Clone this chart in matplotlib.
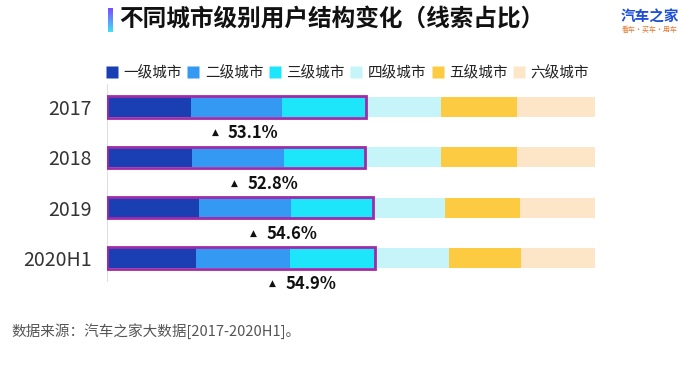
import numpy as np
import matplotlib
matplotlib.use("Agg")
import matplotlib.pyplot as plt
from matplotlib.patches import Rectangle
from matplotlib.lines import Line2D
from matplotlib.colors import LinearSegmentedColormap

plt.rcParams['font.family'] = ['Noto Sans CJK SC', 'DejaVu Sans']

# data (share of leads, %)
years = ['2017', '2018', '2019', '2020H1']
tiers = ['一级城市', '二级城市', '三级城市', '四级城市', '五级城市', '六级城市']
tier1 = [17.2, 17.5, 18.8, 18.2]
tier2 = [18.7, 18.7, 19.0, 19.4]
tier3 = [17.2, 16.6, 16.8, 17.3]
tier4 = [15.4, 15.6, 14.7, 15.2]
tier5 = [15.5, 15.7, 15.3, 14.8]
tier6 = [16.0, 15.9, 15.4, 15.1]
top3_share = ['53.1%', '52.8%', '54.6%', '54.9%']

colors = ['#1a3fb2', '#3399f2', '#1ee6fa', '#c6f5f9', '#fccb42', '#fde6c8']
label_x = [24.8, 28.7, 32.6, 36.5]  # left edge of the share labels

fig = plt.figure(figsize=(7, 3.65), dpi=100)
ax = fig.add_axes([107 / 700, 1 - 280.6 / 365, 488 / 700, 196.2 / 365])

y = np.arange(len(years))
series = [tier1, tier2, tier3, tier4, tier5, tier6]
left = np.zeros(len(years))
for vals, c in zip(series, colors):
    ax.barh(y, vals, left=left, height=0.4, color=c, edgecolor='none')
    left += np.array(vals)

# purple frame around first three tiers
first3 = np.array(tier1) + np.array(tier2) + np.array(tier3)
for yi, w in zip(y, first3):
    ax.add_patch(Rectangle((0, yi - 0.21), w, 0.42, fill=False,
                           edgecolor='#a02aa8', linewidth=2.0, zorder=5))

for yi, lx, s in zip(y, label_x, top3_share):
    ax.text(lx - 2.6, yi + 0.51, '▲', fontsize=6.5, ha='center', va='center',
            color='#111111', family=['DejaVu Sans'])
    ax.text(lx, yi + 0.52, s, fontsize=12, fontweight='bold',
            ha='left', va='center', color='#111111')

ax.set_xlim(0, 100)
ax.set_ylim(3.45, -0.45)
ax.set_yticks(y)
ax.set_yticklabels(years, fontsize=14, color='#333333')
ax.tick_params(axis='y', length=0, pad=11)
ax.set_xticks([])
for sp in ['top', 'right', 'bottom']:
    ax.spines[sp].set_visible(False)
ax.spines['left'].set_color('#e0e0e0')
ax.spines['left'].set_linewidth(0.8)

handles = [Line2D([], [], marker='s', linestyle='none', markersize=9,
                  markerfacecolor=c, markeredgecolor='none') for c in colors]
ax.legend(handles, tiers, ncol=6, loc='lower left', bbox_to_anchor=(-0.012, 0.99),
          frameon=False, fontsize=10.5, handlelength=0.7, handletextpad=0.45,
          columnspacing=0.42, borderaxespad=0, labelcolor='#222222')

# title with gradient bar
fig.text(119 / 700, 1 - 19 / 365, '不同城市级别用户结构变化（线索占比）',
         fontsize=17, fontweight='bold', ha='left', va='center', color='#111111')
gax = fig.add_axes([108 / 700, 1 - 32 / 365, 5 / 700, 24 / 365])
cmap = LinearSegmentedColormap.from_list('g', ['#7a4dff', '#3fe0f5'])
gax.imshow(np.linspace(0, 1, 50).reshape(-1, 1), aspect='auto', cmap=cmap)
gax.axis('off')

# logo
fig.text(650 / 700, 1 - 17 / 365, '汽车之家', fontsize=10.5, fontweight='bold',
         ha='center', va='center', color='#1e4fd8')
fig.text(650 / 700, 1 - 30 / 365, '看车·买车·用车', fontsize=5, ha='center',
         va='center', color='#e8772e')

# footer
fig.text(11 / 700, 1 - 331 / 365, '数据来源：汽车之家大数据[2017-2020H1]。',
         fontsize=10.5, ha='left', va='center', color='#555555')

fig.savefig('out.png', dpi=100, facecolor='white')
